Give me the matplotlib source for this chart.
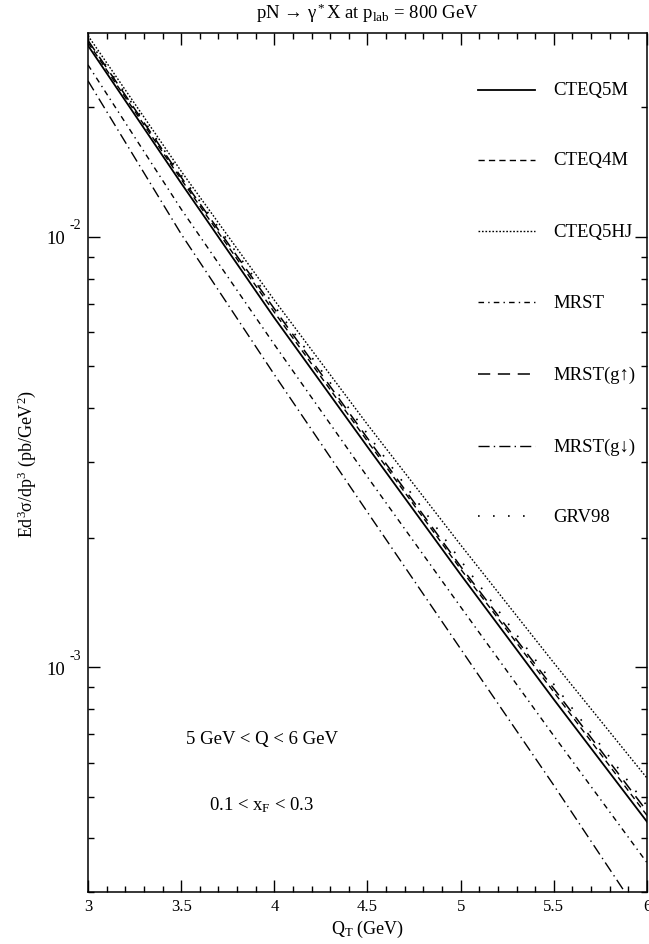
import matplotlib
matplotlib.use("Agg")
import matplotlib.pyplot as plt
from matplotlib.ticker import FixedLocator, NullFormatter, MultipleLocator
from matplotlib.lines import Line2D

plt.rcParams['font.family'] = ['Liberation Serif', 'DejaVu Serif']
plt.rcParams['mathtext.fontset'] = 'custom'
plt.rcParams['mathtext.rm'] = 'Liberation Serif'
plt.rcParams['mathtext.it'] = 'Liberation Serif:italic'
plt.rcParams['mathtext.default'] = 'rm'

# ---- data ----
qt = [3.0, 3.5, 4.0, 4.5, 5.0, 5.5, 6.0]
cteq5m = [0.02786, 0.01334, 0.006486, 0.003251, 0.001641, 0.000841, 0.000437]
cteq4m = [0.02831, 0.01361, 0.006683, 0.003350, 0.001690, 0.000875, 0.000452]
cteq5hj = [0.02938, 0.01422, 0.007130, 0.003664, 0.001923, 0.001023, 0.000552]
mrst = [0.02512, 0.01161, 0.005623, 0.002767, 0.001380, 0.000692, 0.000351]
mrst_gup = [0.02864, 0.01377, 0.006808, 0.003404, 0.001714, 0.000891, 0.000462]
mrst_gdn = [0.02307, 0.01016, 0.004786, 0.002291, 0.001102, 0.000531, 0.000251]
grv98 = [0.02884, 0.01393, 0.006918, 0.003483, 0.001770, 0.000912, 0.000476]

labels = ['CTEQ5M', 'CTEQ4M', 'CTEQ5HJ', 'MRST', 'MRST(g↑)', 'MRST(g↓)', 'GRV98']
series = [cteq5m, cteq4m, cteq5hj, mrst, mrst_gup, mrst_gdn, grv98]
styles = ['-', (0, (4.5, 3)), (0, (1.2, 1.3)), (0, (4, 3, 1, 3)),
          (0, (8, 5)), (0, (8, 3, 1, 3)), (0, (1, 8))]
widths = [1.3, 1.0, 1.0, 1.0, 1.1, 1.0, 1.2]

xticks = [3, 3.5, 4, 4.5, 5, 5.5, 6]
xticklabels = ['3', '3.5', '4', '4.5', '5', '5.5', '6']
yticks = [1e-3, 1e-2]
ybase = ['10', '10']
yexp = ['-3', '-2']

W, H = 649, 945
fig = plt.figure(figsize=(W / 100, H / 100), dpi=100)
L, R, T, B = 88, 647, 34, 893
ax = fig.add_axes([L / W, (H - B) / H, (R - L) / W, (B - T) / H])

for ys, ls, lw in zip(series, styles, widths):
    ax.plot(qt, ys, color='black', linestyle=ls, linewidth=lw)

ax.set_yscale('log')
ax.set_xlim(3, 6)
ax.set_ylim(3.0e-4, 2.98e-2)

ax.set_xticks(xticks)
ax.set_xticklabels(xticklabels)
ax.xaxis.set_minor_locator(MultipleLocator(0.1))
ax.yaxis.set_major_locator(FixedLocator(yticks))
ax.set_yticklabels(ybase)
minor = [m * 10.0 ** e for e in (-4, -3, -2) for m in range(2, 10)]
ax.yaxis.set_minor_locator(FixedLocator(minor))
ax.yaxis.set_minor_formatter(NullFormatter())

ax.tick_params(which='both', direction='in', top=True, right=True, width=1.0)
ax.tick_params(which='major', length=8.6)
ax.tick_params(which='minor', length=4.3)
ax.tick_params(axis='x', which='major', labelsize=12, pad=4)
ax.tick_params(axis='y', which='major', labelsize=13.5, pad=16.5)
for s in ax.spines.values():
    s.set_linewidth(1.1)

# exponents of the y tick labels (plain hyphen as in the reference)
for yv, ex in zip(yticks, yexp):
    ax.annotate(ex, xy=(0, yv), xycoords=ax.get_yaxis_transform(),
                xytext=(-18, 12), textcoords='offset pixels',
                ha='left', va='center', fontsize=10)

ax.set_xlabel('Q$_{\\rm T}$ (GeV)', fontsize=13, labelpad=3)
ax.set_ylabel('Ed$^3\\sigma$/dp$^3$ (pb/GeV$^2$)', fontsize=13, labelpad=6)
fig.text(367.5 / W, 1 - 13 / H, 'pN → γ$^*$X at p$_{\\rm lab}$ = 800 GeV',
         ha='center', va='center', fontsize=13.5)

# legend (manual, styles only)
leg_y = [91, 161, 232, 303, 375, 447, 517]
for lab, ls, lw, yp in zip(labels, styles, widths, leg_y):
    yf = (B - yp) / (B - T)
    ax.add_line(Line2D([(478 - L) / (R - L), (535 - L) / (R - L)], [yf, yf],
                       transform=ax.transAxes, color='black', linestyle=ls,
                       linewidth=lw))
    ax.text((553 - L) / (R - L), yf, lab, transform=ax.transAxes,
            ha='left', va='center', fontsize=13.5)

ax.text((262 - L) / (R - L), (B - 740) / (B - T), '5 GeV < Q < 6 GeV',
        transform=ax.transAxes, ha='center', va='center', fontsize=13.5)
ax.text((262 - L) / (R - L), (B - 805) / (B - T), '0.1 < x$_{\\rm F}$ < 0.3',
        transform=ax.transAxes, ha='center', va='center', fontsize=13.5)

fig.savefig('out.png', dpi=100)
